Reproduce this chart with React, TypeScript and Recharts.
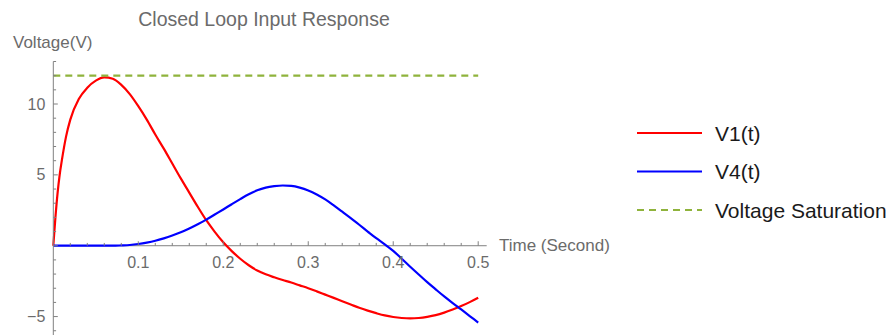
import React from 'react';
import { LineChart, Line, XAxis, YAxis, ReferenceLine } from 'recharts';

// time samples (seconds), denser near t=0 where V1 rises steeply
const TIME = [
  0, 0.0025, 0.005, 0.0075, 0.01, 0.015, 0.02,
  0.03, 0.04, 0.05, 0.06, 0.07, 0.08, 0.09, 0.1,
  0.11, 0.12, 0.13, 0.14, 0.15, 0.16, 0.17, 0.18, 0.19, 0.2,
  0.21, 0.22, 0.23, 0.24, 0.25, 0.26, 0.27, 0.28, 0.29, 0.3,
  0.31, 0.32, 0.33, 0.34, 0.35, 0.36, 0.37, 0.38, 0.39, 0.4,
  0.41, 0.42, 0.43, 0.44, 0.45, 0.46, 0.47, 0.48, 0.49, 0.5,
];

const V1 = [
  0, 2.0, 3.7, 5.0, 6.0, 7.7, 8.9,
  10.35, 11.15, 11.65, 11.88, 11.78, 11.35, 10.7, 9.85,
  8.9, 7.85, 6.85, 5.8, 4.75, 3.75, 2.75, 1.8, 0.98, 0.24,
  -0.38, -0.92, -1.38, -1.75, -2.02, -2.23, -2.42, -2.6, -2.8, -3.0,
  -3.22, -3.45, -3.68, -3.92, -4.15, -4.38, -4.58, -4.76, -4.92, -5.03,
  -5.1, -5.13, -5.1, -5.02, -4.9, -4.72, -4.5, -4.26, -3.98, -3.67,
];

const V4 = [
  0, 0, 0, 0, 0, 0, 0,
  0, 0, 0, 0, 0, 0.02, 0.05, 0.12,
  0.22, 0.35, 0.52, 0.72, 0.95, 1.22, 1.52, 1.84, 2.2, 2.56,
  2.93, 3.29, 3.63, 3.91, 4.1, 4.2, 4.25, 4.22, 4.1, 3.9,
  3.62, 3.27, 2.85, 2.4, 1.95, 1.48, 1.0, 0.53, 0.1, -0.36,
  -0.92, -1.48, -2.03, -2.57, -3.08, -3.58, -4.05, -4.5, -4.96, -5.42,
];

const SATURATION = 12;

const X_TICKS = [
  0.02, 0.04, 0.06, 0.08, 0.1, 0.12, 0.14, 0.16, 0.18, 0.2,
  0.22, 0.24, 0.26, 0.28, 0.3, 0.32, 0.34, 0.36, 0.38, 0.4,
  0.42, 0.44, 0.46, 0.48, 0.5,
];
const Y_TICKS = [-6, -5, -4, -3, -2, -1, 0, 1, 2, 3, 4, 5, 6, 7, 8, 9, 10, 11, 12, 13];

const SERIES = [
  { key: 'v1', name: 'V1(t)', color: '#ff0000', dash: undefined },
  { key: 'v4', name: 'V4(t)', color: '#0000ff', dash: undefined },
  { key: 'sat', name: 'Voltage Saturation', color: '#8fb33c', dash: '7 5' },
];

const data = TIME.map((t, i) => ({ t, v1: V1[i], v4: V4[i], sat: SATURATION }));

const FONT = '"Liberation Sans", Arial, sans-serif';
const AXIS = '#808080';
const LABEL = '#6b6b6b';

const Y_MIN = -6.3;
const Y_MAX = 13;
const PLOT_TOP = 61.5;
const PLOT_BOTTOM = 335;
// distance from the bottom of the plot up to the y=0 line, where the time axis sits
const ZERO_SHIFT = ((0 - Y_MIN) / (Y_MAX - Y_MIN)) * (PLOT_BOTTOM - PLOT_TOP);

const isMajor = (v: number, step: number) => Math.abs(v / step - Math.round(v / step)) < 1e-6;

const XTick = (props: any) => {
  const { x, y, payload } = props;
  const v = payload.value;
  const major = isMajor(v, 0.1);
  const y0 = y - ZERO_SHIFT;
  return (
    <g>
      <line x1={x} x2={x} y1={y0} y2={y0 - (major ? 4.5 : 2.8)} stroke={AXIS} />
      {major && (
        <text x={x} y={y0 + 22} textAnchor="middle" fill={LABEL} fontSize={16} fontFamily={FONT}>
          {v.toFixed(1)}
        </text>
      )}
    </g>
  );
};

const YTick = (props: any) => {
  const { x, y, payload } = props;
  const v = payload.value;
  const major = isMajor(v, 5);
  return (
    <g>
      <line x1={x} x2={x + (major ? 4.5 : 2.8)} y1={y} y2={y} stroke={AXIS} />
      {major && v !== 0 && (
        <text x={x - 8} y={y + 5.5} textAnchor="end" fill={LABEL} fontSize={16} fontFamily={FONT}>
          {v < 0 ? `\u2212${Math.abs(v)}` : v}
        </text>
      )}
    </g>
  );
};

const LegendBox = () => (
  <svg width={263} height={130} style={{ position: 'absolute', left: 630, top: 110 }}>
    {SERIES.map((s, i) => {
      const y = 23 + i * 38.5;
      return (
        <g key={s.key}>
          <line x1={7} x2={72} y1={y} y2={y} stroke={s.color} strokeWidth={2} strokeDasharray={s.dash} />
          <text x={85} y={y + 7.5} fontSize={21} fontFamily={FONT} fill="#1a1a1a">
            {s.name}
          </text>
        </g>
      );
    })}
  </svg>
);

export default function App() {
  return (
    <div style={{ position: 'absolute', left: 0, top: 0, width: 893, height: 335 }}>
      <LineChart
        width={893}
        height={PLOT_BOTTOM + 1}
        data={data}
        margin={{ top: PLOT_TOP, right: 406.3, bottom: 0, left: 0 }}
      >
        <XAxis
          dataKey="t"
          type="number"
          domain={[0, 0.51]}
          ticks={X_TICKS}
          height={1}
          axisLine={false}
          tickLine={false}
          tickSize={0}
          tickMargin={0}
          tick={<XTick />}
          interval={0}
        />
        <YAxis
          type="number"
          domain={[Y_MIN, Y_MAX]}
          ticks={Y_TICKS}
          width={53.3}
          allowDataOverflow
          stroke={AXIS}
          tickLine={false}
          tickSize={0}
          tickMargin={0}
          tick={<YTick />}
          interval={0}
        />
        <ReferenceLine y={0} stroke={AXIS} />
        {SERIES.map((s) => (
          <Line
            key={s.key}
            dataKey={s.key}
            name={s.name}
            type="monotone"
            stroke={s.color}
            strokeWidth={2.2}
            strokeDasharray={s.dash}
            dot={false}
            activeDot={false}
            isAnimationActive={false}
          />
        ))}
        <text x={264} y={26} textAnchor="middle" fontSize={19.5} fontFamily={FONT} fill={LABEL}>
          Closed Loop Input Response
        </text>
        <text x={13} y={48} fontSize={17} fontFamily={FONT} fill={LABEL}>
          Voltage(V)
        </text>
        <text x={499} y={251} fontSize={17} fontFamily={FONT} fill={LABEL}>
          Time (Second)
        </text>
      </LineChart>
      <LegendBox />
    </div>
  );
}
